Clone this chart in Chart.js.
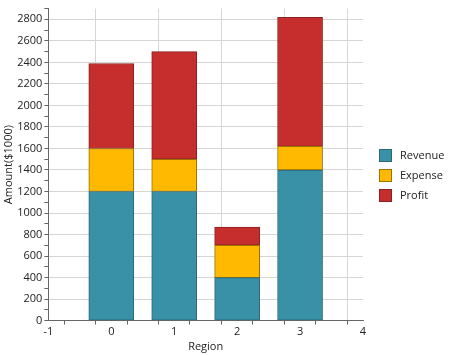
<!DOCTYPE html>
<html><head><meta charset="utf-8">
<script src="https://cdn.jsdelivr.net/npm/chart.js@4/dist/chart.umd.min.js"></script>
<style>html,body{margin:0;padding:0;background:#fff}#wrap{width:449px;height:355px}</style>
</head><body><div id="wrap"><canvas id="c" width="449" height="355"></canvas></div>
<script>
const categories = [0, 1, 2, 3];
const seriesNames = ['Revenue', 'Expense', 'Profit'];
const revenue = [1200, 1200, 400, 1400];
const expense = [400, 300, 300, 220];
const profit = [790, 1000, 170, 1200];
const fills = ['#3891a6', '#ffb900', '#c62d2d'];
const borders = ['#2b6878', '#9a7300', '#8a2020'];
const values = [revenue, expense, profit];

const datasets = seriesNames.map((n, i) => ({
  label: n,
  data: categories.map((c, j) => ({x: c, y: values[i][j]})),
  backgroundColor: fills[i],
  borderColor: borders[i],
  borderWidth: 1,
  barThickness: 45,
  borderSkipped: false
}));

const font = {family: 'Open Sans, Segoe UI, sans-serif', size: 11};
const isInt = ctx => ctx.tick && Math.abs(ctx.tick.value - Math.round(ctx.tick.value)) < 1e-6;
const isMajY = ctx => ctx.tick && Math.round(ctx.tick.value) % 200 === 0 && Math.round(ctx.tick.value) < 2900;

const sideLegend = {
  id: 'sideLegend',
  afterDraw(chart) {
    const ctx = chart.ctx;
    const x0 = chart.chartArea.right + 16;
    const rowH = 20;
    const cy = chart.height / 2 - 2;
    const y0 = cy - rowH * (seriesNames.length - 1) / 2;
    ctx.save();
    ctx.font = `${font.size}px ${font.family}`;
    ctx.textBaseline = 'middle';
    ctx.textAlign = 'left';
    seriesNames.forEach((n, i) => {
      const y = y0 + i * rowH;
      ctx.fillStyle = fills[i];
      ctx.fillRect(x0, y - 6.5, 13, 13);
      ctx.strokeStyle = borders[i];
      ctx.lineWidth = 1;
      ctx.strokeRect(x0 + 0.5, y - 6, 12, 12);
      ctx.fillStyle = '#222';
      ctx.fillText(n, x0 + 21, y);
    });
    ctx.restore();
  }
};

new Chart(document.getElementById('c'), {
  type: 'bar',
  data: {datasets},
  plugins: [sideLegend],
  options: {
    responsive: false, animation: false,
    layout: {padding: {top: 8, right: 86, left: 2, bottom: 0}},
    plugins: {
      legend: {display: false},
      tooltip: {enabled: false}
    },
    scales: {
      x: {
        type: 'linear', stacked: true, min: -1, max: 4, offset: false,
        ticks: {stepSize: 0.5, autoSkip: false, maxTicksLimit: 100, font, color: '#222', padding: 1,
          callback: v => Math.abs(v - Math.round(v)) < 1e-6 ? String(Math.round(v)) : ''},
        grid: {color: ctx => isInt(ctx) ? '#d6d6d6' : 'rgba(0,0,0,0)',
          tickColor: '#666', tickLength: 4, drawTicks: true},
        border: {color: '#666', width: 1},
        title: {display: true, text: 'Region', font, color: '#222', padding: {top: 0, bottom: 2}}
      },
      y: {
        stacked: true, min: 0, max: 2900,
        ticks: {stepSize: 100, autoSkip: false, maxTicksLimit: 100, font, color: '#222', padding: 2,
          callback: v => (Math.round(v) % 200 === 0 && Math.round(v) < 2900) ? String(Math.round(v)) : ''},
        grid: {color: ctx => isMajY(ctx) ? '#d6d6d6' : 'rgba(0,0,0,0)',
          tickColor: '#666', tickLength: 4},
        border: {color: '#666', width: 1},
        title: {display: true, text: 'Amount($1000)', font, color: '#222', padding: {top: 0, bottom: 0}}
      }
    }
  }
});
</script></body></html>
